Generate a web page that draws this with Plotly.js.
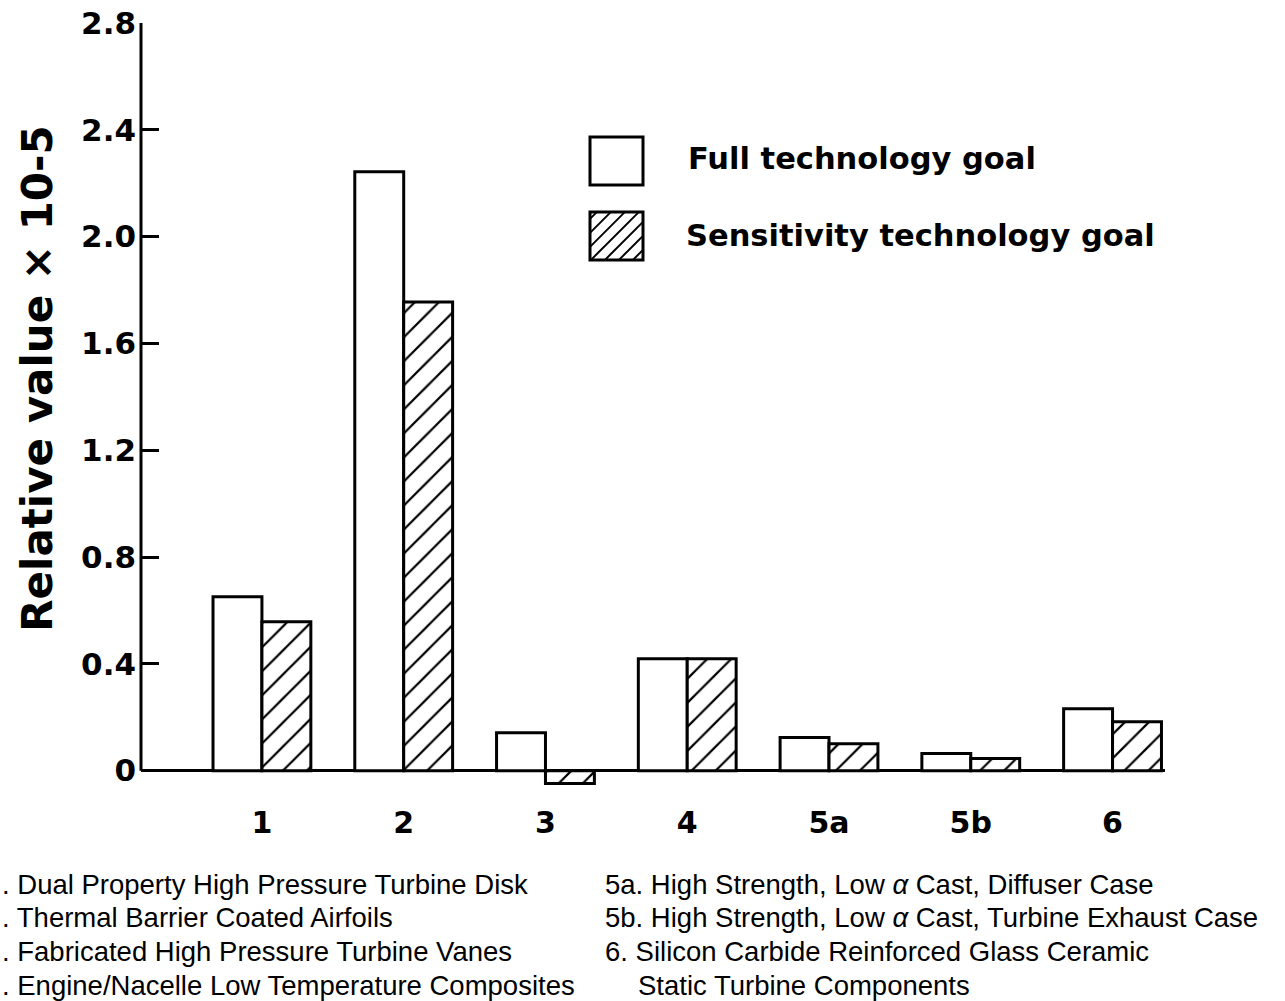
<!DOCTYPE html>
<html><head><meta charset="utf-8">
<script src="https://cdn.plot.ly/plotly-3.0.1.min.js"></script>
<style>html,body{margin:0;padding:0;background:#fff}</style>
</head><body><div id="chart" style="width:1285px;height:1001px"></div>
<script>
const categories = ['1', '2', '3', '4', '5a', '5b', '6'];
const fullGoal = [0.651, 2.243, 0.142, 0.419, 0.124, 0.064, 0.232];
const sensitivityGoal = [0.558, 1.755, -0.048, 0.419, 0.101, 0.045, 0.183];
const seriesNames = ['Full technology goal', 'Sensitivity technology goal'];
const yTicks = [0, 0.4, 0.8, 1.2, 1.6, 2.0, 2.4, 2.8];
const yTickLabels = ['0', '0.4', '0.8', '1.2', '1.6', '2.0', '2.4', '2.8'];
const yTitle = 'Relative value \u00d7 10-5';
const notesLeft = [
  '. Dual Property High Pressure Turbine Disk',
  '. Thermal Barrier Coated Airfoils',
  '. Fabricated High Pressure Turbine Vanes',
  '. Engine/Nacelle Low Temperature Composites'
];
const notesRight = [
  '5a. High Strength, Low <i>\u03b1</i> Cast, Diffuser Case',
  '5b. High Strength, Low <i>\u03b1</i> Cast, Turbine Exhaust Case',
  '6. Silicon Carbide Reinforced Glass Ceramic',
  'Static Turbine Components'
];

// layout geometry (pixels)
const W = 1285, H = 1001;
const L = 141, R = 1165, T = 23;
const yMin = -0.08, yMax = 2.8;
const plotH = 769.4;
const B = T + plotH;
const px = x => (x - L) / (R - L);
const py = y => (B - y) / plotH;

const boldFont = 'DejaVu Sans, Liberation Sans, Arial, sans-serif';
const noteFont = 'Liberation Sans, Arial, sans-serif';

const traces = [
  {
    type: 'bar', name: seriesNames[0], x: categories, y: fullGoal,
    marker: {color: '#ffffff', line: {color: '#000', width: 3}},
    hoverinfo: 'x+y'
  },
  {
    type: 'bar', name: seriesNames[1], x: categories, y: sensitivityGoal,
    marker: {color: '#ffffff', line: {color: '#000', width: 3},
      pattern: {shape: '/', fgcolor: '#000', bgcolor: '#fff', size: 17, solidity: 0.13}},
    hoverinfo: 'x+y'
  }
];

const shapes = [
  // y axis line from 0 to top
  {type: 'line', xref: 'paper', yref: 'y', x0: 0, x1: 0, y0: 0, y1: yMax,
   line: {color: '#000', width: 3}}
];
const annotations = [];

// legend swatches
const sw = [
  {x0: 590, x1: 643, y0: 137, y1: 185},
  {x0: 590, x1: 643, y0: 212, y1: 260}
];
// hatch lines ("/") in second swatch: (x - x0) + (y - y0) = k
(function () {
  const s = sw[1];
  const step = 14;
  const w = s.x1 - s.x0, h = s.y1 - s.y0;
  for (let k = step / 2; k < w + h; k += step) {
    let ax = s.x0 + k, ay = s.y0;      // top edge point
    let bx = s.x0, by = s.y0 + k;      // left edge point
    if (ax > s.x1) { ay = s.y0 + (ax - s.x1); ax = s.x1; }
    if (by > s.y1) { bx = s.x0 + (by - s.y1); by = s.y1; }
    shapes.push({type: 'line', xref: 'paper', yref: 'paper',
      x0: px(bx), y0: py(by), x1: px(ax), y1: py(ay),
      line: {color: '#000', width: 2}});
  }
})();
sw.forEach(s => shapes.push({type: 'rect', xref: 'paper', yref: 'paper',
  x0: px(s.x0), x1: px(s.x1), y0: py(s.y1), y1: py(s.y0),
  line: {color: '#000', width: 3}, fillcolor: 'rgba(0,0,0,0)'}));

annotations.push({xref: 'paper', yref: 'paper', x: px(686), y: py(159), xanchor: 'left', yanchor: 'middle',
  text: '<b>' + seriesNames[0] + '</b>', showarrow: false, font: {family: boldFont, size: 30.5, color: '#000'}});
annotations.push({xref: 'paper', yref: 'paper', x: px(684), y: py(236), xanchor: 'left', yanchor: 'middle',
  text: '<b>' + seriesNames[1] + '</b>', showarrow: false, font: {family: boldFont, size: 30.5, color: '#000'}});

// y axis title
annotations.push({xref: 'paper', yref: 'paper', x: px(38), y: py(379), xanchor: 'center', yanchor: 'middle',
  text: '<b>' + yTitle + '</b>', textangle: -90, showarrow: false,
  font: {family: boldFont, size: 42, color: '#000'}});

// notes
const lineY = [885, 918, 952, 986];
notesLeft.forEach((t, i) => annotations.push({xref: 'paper', yref: 'paper', x: px(0), y: py(lineY[i]),
  xanchor: 'left', yanchor: 'middle', text: t, showarrow: false,
  font: {family: noteFont, size: 27.5, color: '#000'}}));
notesRight.forEach((t, i) => annotations.push({xref: 'paper', yref: 'paper', x: px(i === 3 ? 636 : 603), y: py(lineY[i]),
  xanchor: 'left', yanchor: 'middle', text: t, showarrow: false,
  font: {family: noteFont, size: 27.5, color: '#000'}}));

const layout = {
  width: W, height: H,
  margin: {l: L, r: W - R, t: T, b: H - B, pad: 0},
  paper_bgcolor: '#fff', plot_bgcolor: '#fff',
  showlegend: false,
  barmode: 'group', bargap: 0.31, bargroupgap: 0,
  xaxis: {
    type: 'category', range: [-0.853, 6.37], showgrid: false, showline: false,
    zeroline: false, ticks: '', ticklabelstandoff: 10,
    tickfont: {family: boldFont, size: 30, color: '#000', weight: 'bold'}
  },
  yaxis: {
    range: [yMin, yMax], showgrid: false, showline: false,
    zeroline: true, zerolinecolor: '#000', zerolinewidth: 3,
    tickvals: yTicks, ticktext: yTickLabels,
    ticks: 'inside', ticklen: 18, tickwidth: 3, tickcolor: '#000',
    ticklabelstandoff: 4,
    tickfont: {family: boldFont, size: 31, color: '#000', weight: 'bold'}
  },
  shapes: shapes,
  annotations: annotations
};

Plotly.newPlot('chart', traces, layout, {displayModeBar: false, staticPlot: true});
</script>
</body></html>
